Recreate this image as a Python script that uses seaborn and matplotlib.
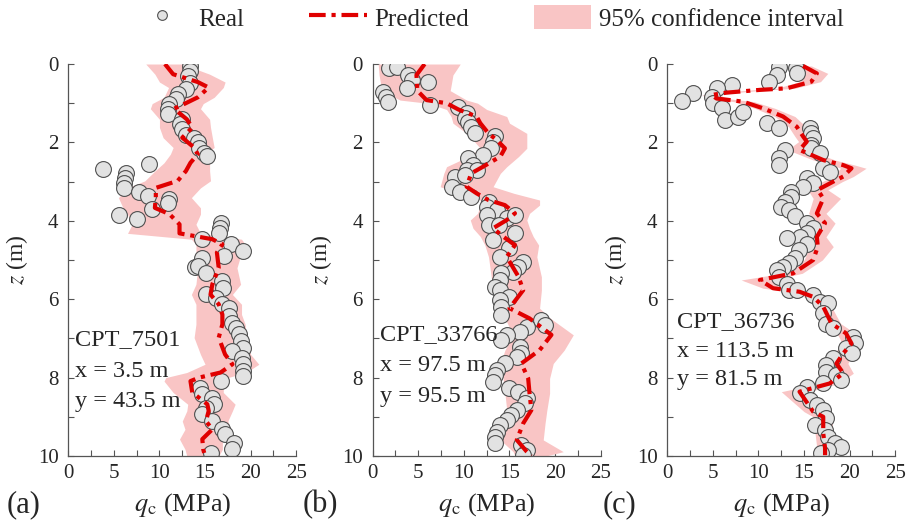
import numpy as np
import pandas as pd
import matplotlib
matplotlib.use('Agg')
import matplotlib.pyplot as plt
from matplotlib.lines import Line2D
from matplotlib.patches import Patch
from matplotlib.ticker import MultipleLocator
import seaborn as sns

# dados =======================================================================
# (a) CPT_7501
real_z_a = [0.05, 0.18, 0.31, 0.48, 0.65, 0.77, 0.9, 1.03, 1.16, 1.28, 1.41, 1.54, 1.67, 1.8,
            1.88, 2.0, 2.13, 2.26, 2.35, 2.69, 2.56, 2.77, 2.9, 3.03, 3.16, 3.27, 3.37, 3.45,
            3.54, 3.71, 3.86, 3.96, 4.05, 4.18, 4.3, 4.46, 4.6, 4.77, 4.9, 4.94, 5.18, 5.15,
            5.32, 5.54, 5.71, 5.88, 5.96, 6.13, 6.22, 6.43, 6.6, 6.73, 6.9, 7.07, 7.24, 7.32,
            7.49, 7.66, 7.83, 7.96, 8.09, 8.26, 8.43, 8.51, 8.68, 8.77, 8.94, 9.11, 9.32, 9.45,
            9.66, 9.83, 9.92]
real_q_a = [13.3, 13.3, 13.1, 13.3, 12.9, 12.0, 11.8, 11.1, 10.9, 10.9, 12.5, 12.3, 12.5, 12.9,
            13.8, 14.2, 14.3, 14.9, 15.25, 3.8, 8.8, 6.3, 6.2, 6.1, 6.1, 7.75, 8.7, 11.1,
            10.9, 9.2, 5.6, 7.5, 16.7, 16.6, 16.5, 14.7, 17.8, 19.2, 17.1, 14.7, 13.9, 14.2,
            15.1, 16.9, 17.0, 15.1, 16.2, 16.9, 17.6, 17.6, 18.0, 18.4, 18.7, 18.9, 19.2, 18.0,
            19.1, 19.2, 19.2, 19.2, 16.8, 14.5, 14.7, 15.8, 16.0, 15.1, 14.7, 15.8, 16.9, 17.2,
            18.2, 18.0, 15.6]
pred_z_a = [0.0, 0.26, 0.46, 0.6, 0.85, 1.01, 1.14, 1.41, 1.62, 1.88, 2.13, 2.3, 2.52, 2.73,
            2.98, 3.16, 3.41, 3.67, 3.83, 4.09, 4.32, 4.47, 4.6, 4.81, 5.2, 5.62, 5.88, 6.13,
            6.39, 6.64, 6.98, 7.41, 7.66, 7.87, 8.0, 8.09, 8.38, 8.68, 8.85, 9.11, 9.32, 9.57,
            9.83, 10.0]
pred_q_a = [10.6, 11.5, 14.2, 15.4, 14.2, 12.8, 11.6, 13.0, 13.6, 12.5, 13.8, 14.2, 13.4, 12.9,
            12.0, 9.6, 9.6, 9.5, 11.1, 12.2, 12.2, 15.8, 16.9, 16.3, 16.5, 15.8, 15.6, 16.5,
            16.9, 16.9, 16.5, 17.2, 18.0, 16.7, 14.35, 13.4, 13.6, 15.25, 15.4, 15.1, 15.8, 14.7,
            14.8, 15.0]
lo_a = [8.5, 9.5, 10.0, 11.0, 10.5, 9.2, 9.0, 10.0, 10.0, 10.4, 11.5, 11.2, 10.5, 9.5,
        8.4, 6.5, 5.5, 6.0, 6.5, 7.0, 6.5, 13.5, 14.0, 14.0, 14.2, 14.0, 13.5, 14.0,
        14.0, 14.0, 13.8, 14.5, 15.0, 13.0, 10.7, 10.5, 11.5, 13.1, 13.0, 12.5, 12.8, 12.2,
        12.8, 13.0]
hi_a = [12.5, 15.5, 17.2, 17.0, 16.0, 14.8, 14.5, 15.5, 15.6, 15.8, 16.0, 15.0, 15.5, 15.5,
        15.6, 14.5, 13.5, 14.5, 14.5, 14.0, 14.5, 19.0, 19.4, 19.0, 18.5, 18.9, 18.0, 19.0,
        19.0, 19.4, 19.5, 20.0, 20.9, 19.5, 17.5, 17.0, 17.0, 18.3, 18.0, 17.5, 17.8, 16.9,
        16.9, 16.5]

# (b) CPT_33766
real_z_b = [0.11, 0.07, 0.28, 0.41, 0.45, 0.62, 0.71, 0.83, 0.96, 1.05, 1.09, 1.26, 1.39, 1.47,
            1.6, 1.75, 1.84, 1.98, 2.15, 2.32, 2.41, 2.58, 2.7, 2.7, 2.87, 2.83, 3.13, 3.26,
            3.38, 3.51, 3.64, 3.72, 3.85, 3.94, 3.85, 4.11, 4.11, 4.32, 4.49, 4.7, 4.92, 5.04,
            5.17, 5.3, 5.34, 5.51, 5.68, 5.77, 5.94, 6.02, 6.19, 6.4, 6.53, 6.66, 6.7, 6.83,
            6.91, 7.04, 7.21, 7.38, 7.47, 7.64, 7.81, 7.93, 8.1, 8.27, 8.36, 8.53, 8.66, 8.83,
            8.95, 9.08, 9.21, 9.38, 9.51, 9.68, 9.72, 9.85, 9.98]
real_q_b = [1.82, 2.63, 3.9, 4.27, 6.1, 3.72, 1.17, 1.46, 1.71, 6.28, 9.38, 10.3, 10.1, 10.5,
            10.8, 11.2, 13.4, 13.2, 13.0, 12.1, 10.5, 11.0, 10.3, 11.4, 9.0, 10.1, 8.65, 9.56,
            10.8, 12.7, 12.5, 13.6, 12.5, 14.7, 15.6, 12.7, 13.8, 15.6, 13.2, 14.9, 14.0, 16.5,
            15.9, 15.4, 14.1, 14.0, 13.4, 14.0, 14.9, 14.0, 14.1, 14.1, 18.5, 18.9, 16.9, 16.1,
            14.7, 14.1, 16.1, 16.3, 15.8, 14.5, 13.6, 13.4, 13.2, 15.0, 15.9, 16.9, 16.7, 15.8,
            15.2, 14.7, 14.0, 13.6, 13.4, 13.4, 16.3, 16.9, 16.5]
pred_z_b = [0.0, 0.28, 0.68, 0.92, 1.0, 1.16, 1.34, 1.51, 1.77, 1.94, 2.15, 2.36, 2.62, 2.79,
            3.13, 3.3, 3.47, 3.6, 3.81, 3.98, 4.19, 4.4, 4.62, 4.92, 5.43, 5.77, 6.23, 6.49,
            6.91, 7.3, 7.64, 8.02, 8.4, 8.83, 9.17, 9.59, 9.89, 10.0]
pred_q_b = [5.7, 4.8, 4.9, 5.9, 8.1, 9.4, 11.4, 11.8, 12.7, 13.6, 14.5, 14.0, 12.1, 10.8,
            10.3, 11.4, 12.7, 14.5, 15.6, 14.7, 13.2, 14.3, 15.6, 14.7, 16.0, 16.5, 15.0, 17.2,
            19.6, 18.3, 16.3, 17.05, 17.2, 17.4, 16.5, 15.8, 16.9, 17.4]
lo_b = [0.6, 0.7, 1.0, 3.0, 6.0, 8.1, 8.6, 8.8, 10.3, 11.0, 11.8, 10.5, 8.1, 7.8,
        7.4, 9.5, 11.8, 11.8, 11.5, 10.7, 11.0, 11.8, 12.3, 12.7, 13.0, 13.2, 14.0, 14.5,
        15.4, 14.5, 14.0, 14.3, 14.5, 14.7, 14.3, 14.0, 15.4, 15.6]
hi_b = [9.6, 8.8, 8.5, 10.3, 11.5, 12.5, 14.7, 15.0, 16.9, 16.9, 16.9, 16.0, 14.7, 14.0,
        13.2, 15.5, 18.3, 18.3, 17.2, 16.9, 17.2, 17.6, 18.2, 18.0, 18.5, 18.5, 18.3, 19.5,
        22.0, 21.0, 19.8, 19.4, 19.4, 19.1, 18.9, 18.7, 20.9, 19.0]

# (c) CPT_36736
real_z_c = [0.07, 0.11, 0.24, 0.28, 0.45, 0.54, 0.62, 0.73, 0.94, 0.83, 0.99, 1.13, 1.43, 1.34,
            1.22, 1.51, 1.64, 1.64, 1.77, 1.9, 2.07, 2.15, 2.28, 2.19, 2.41, 2.58, 2.66, 2.75,
            2.92, 3.04, 3.13, 3.26, 3.38, 3.51, 3.64, 3.72, 3.89, 4.06, 4.19, 4.32, 4.41, 4.45,
            4.58, 4.74, 4.96, 5.08, 5.17, 5.26, 5.43, 5.6, 5.77, 5.77, 5.89, 6.06, 6.1, 6.36,
            6.62, 6.74, 6.96, 7.13, 7.25, 7.38, 7.51, 7.68, 7.85, 7.93, 8.06, 8.15, 8.23, 8.4,
            8.57, 8.7, 8.83, 9.04, 9.21, 9.34, 9.51, 9.68, 9.76, 9.85, 9.93]
real_q_c = [12.3, 14.1, 14.2, 12.0, 11.1, 7.05, 5.4, 2.85, 1.57, 4.86, 5.04, 5.95, 6.3, 7.8,
            8.3, 10.9, 12.2, 15.6, 15.8, 16.0, 15.8, 15.8, 16.7, 12.9, 12.3, 12.2, 17.1, 17.8,
            15.3, 16.0, 14.9, 13.6, 13.6, 12.9, 12.5, 13.4, 14.0, 15.3, 16.0, 15.3, 14.5, 13.1,
            15.3, 14.4, 14.0, 13.4, 12.7, 12.0, 12.3, 13.1, 13.4, 14.2, 16.0, 16.7, 17.6, 17.1,
            17.45, 18.2, 20.4, 20.6, 19.6, 20.2, 18.2, 17.45, 17.45, 18.55, 19.1, 17.1, 15.3, 14.5,
            15.6, 16.4, 17.1, 17.45, 16.2, 17.3, 17.6, 18.4, 19.1, 17.6, 16.9]
pred_z_c = [0.05, 0.24, 0.45, 0.62, 0.66, 0.73, 0.79, 0.88, 0.96, 1.13, 1.34, 1.6, 1.85, 1.98,
            2.19, 2.45, 2.58, 2.66, 2.87, 3.0, 3.21, 3.43, 3.81, 4.06, 4.41, 4.66, 5.0, 5.34,
            5.51, 5.72, 5.81, 5.94, 6.19, 6.62, 6.87, 7.13, 7.38, 7.64, 7.89, 8.15, 8.36, 8.87,
            9.0, 9.42, 9.8, 9.98]
pred_q_c = [14.9, 16.4, 15.8, 13.1, 10.15, 6.5, 4.86, 5.4, 8.3, 10.5, 12.7, 14.2, 14.9, 15.3,
            14.5, 17.1, 19.3, 20.2, 19.3, 18.2, 16.5, 17.1, 16.4, 17.3, 16.4, 16.5, 16.0, 13.8,
            10.15, 11.6, 14.5, 16.0, 17.1, 18.0, 19.6, 20.2, 19.3, 18.55, 19.3, 17.8, 14.5, 16.0,
            17.1, 17.1, 17.3, 17.3]
lo_c = [14.0, 15.2, 14.5, 12.0, 9.3, 5.6, 3.8, 4.5, 7.3, 9.6, 11.8, 13.3, 14.0, 14.4,
        13.2, 16.0, 18.2, 19.0, 18.2, 17.0, 15.4, 16.0, 15.5, 16.4, 15.4, 15.6, 15.0, 12.6,
        8.1, 10.5, 13.4, 15.0, 16.2, 17.0, 18.6, 19.2, 18.3, 17.6, 18.2, 16.6, 12.5, 15.0,
        16.0, 16.2, 16.4, 16.4]
hi_c = [15.8, 17.6, 16.8, 14.0, 11.0, 7.4, 5.8, 6.5, 9.5, 11.8, 14.0, 15.2, 15.8, 16.2,
        15.4, 18.4, 20.6, 21.8, 20.4, 19.2, 17.6, 19.0, 17.4, 18.4, 17.4, 18.2, 17.0, 14.8,
        11.5, 12.8, 15.5, 17.0, 18.0, 19.0, 20.6, 21.2, 20.3, 19.8, 20.4, 18.8, 15.5, 17.5,
        18.2, 18.0, 18.2, 18.2]

nomes = ['CPT_7501', 'CPT_33766', 'CPT_36736']
coord_x = ['x = 3.5 m', 'x = 97.5 m', 'x = 113.5 m']
coord_y = ['y = 43.5 m', 'y = 95.5 m', 'y = 81.5 m']
letras = ['(a)', '(b)', '(c)']

# estilo ======================================================================
sns.set_style('ticks')
plt.rcParams['font.family'] = ['Liberation Serif', 'DejaVu Serif']
plt.rcParams['mathtext.fontset'] = 'stix'

cor_pred = '#e00000'
cor_ic = '#f9c5c5'
cor_real = '#e2e2e2'
traco = (0, (4, 1.4, 1, 1.4))

fig = plt.figure(figsize=(9.09, 5.26), dpi=100)
lefts = [0.0751, 0.4100, 0.7341]
paineis = [
    (real_z_a, real_q_a, pred_z_a, pred_q_a, lo_a, hi_a),
    (real_z_b, real_q_b, pred_z_b, pred_q_b, lo_b, hi_b),
    (real_z_c, real_q_c, pred_z_c, pred_q_c, lo_c, hi_c),
]
texto_z = [(7.04, 7.84, 8.61), (6.91, 7.68, 8.49), (6.57, 7.34, 8.06)]
texto_x = [0.73, 0.8, 1.03]
letra_x = [24, 320, 620]

for i, (rz, rq, pz, pq, lo, hi) in enumerate(paineis):
    ax = fig.add_axes([lefts[i], 0.1331, 0.2508, 0.7452])
    ax.fill_betweenx(pz, lo, hi, color=cor_ic, lw=0, zorder=1)
    df_real = pd.DataFrame({'q': rq, 'z': rz})
    sns.scatterplot(data=df_real, x='q', y='z', ax=ax, s=130, color=cor_real,
                    edgecolor='#505050', linewidth=0.8, zorder=2)
    df_pred = pd.DataFrame({'q': pq, 'z': pz})
    sns.lineplot(data=df_pred, x='q', y='z', ax=ax, sort=False, estimator=None,
                 color=cor_pred, lw=3, linestyle=traco, zorder=3)

    ax.set_xlim(0, 25)
    ax.set_ylim(10, 0)
    ax.xaxis.set_major_locator(MultipleLocator(5))
    ax.xaxis.set_minor_locator(MultipleLocator(2.5))
    ax.yaxis.set_major_locator(MultipleLocator(2))
    ax.yaxis.set_minor_locator(MultipleLocator(1))
    ax.tick_params(which='both', direction='in', length=4, width=0.8, color='#555555')
    ax.tick_params(axis='x', labelsize=15, pad=5.5)
    ax.tick_params(axis='y', labelsize=15, pad=7)
    sns.despine(ax=ax)
    for s in ['left', 'bottom']:
        ax.spines[s].set_color('#555555')
        ax.spines[s].set_linewidth(0.9)

    ax.set_xlabel(r'$q_\mathrm{c}$ (MPa)', fontsize=19)
    ax.set_ylabel(r'$z$ (m)', fontsize=17)
    ax.xaxis.set_label_coords(0.5, -0.09)
    ax.yaxis.set_label_coords(-0.17, 0.5)

    for t, zz in zip([nomes[i], coord_x[i], coord_y[i]], texto_z[i]):
        ax.text(texto_x[i], zz, t, fontsize=17.5, va='center', ha='left', zorder=4)

    fig.text(letra_x[i] / 909, 1 - 505 / 526, letras[i], fontsize=22,
             ha='center', va='center')

# legenda =====================================================================
handles = [
    Line2D([], [], marker='o', ls='none', markersize=7, markerfacecolor=cor_real,
           markeredgecolor='#505050', markeredgewidth=0.8),
    Line2D([], [], color=cor_pred, lw=3, linestyle=traco),
    Patch(facecolor=cor_ic, edgecolor='none'),
]
fig.legend(handles, ['Real', 'Predicted', '95% confidence interval'], loc='center',
           bbox_to_anchor=(0.5374, 0.966), ncol=3, frameon=False, fontsize=18,
           handlelength=2.3, handleheight=1.1, handletextpad=0.3, columnspacing=2.6)

fig.savefig('out.png', dpi=100)
